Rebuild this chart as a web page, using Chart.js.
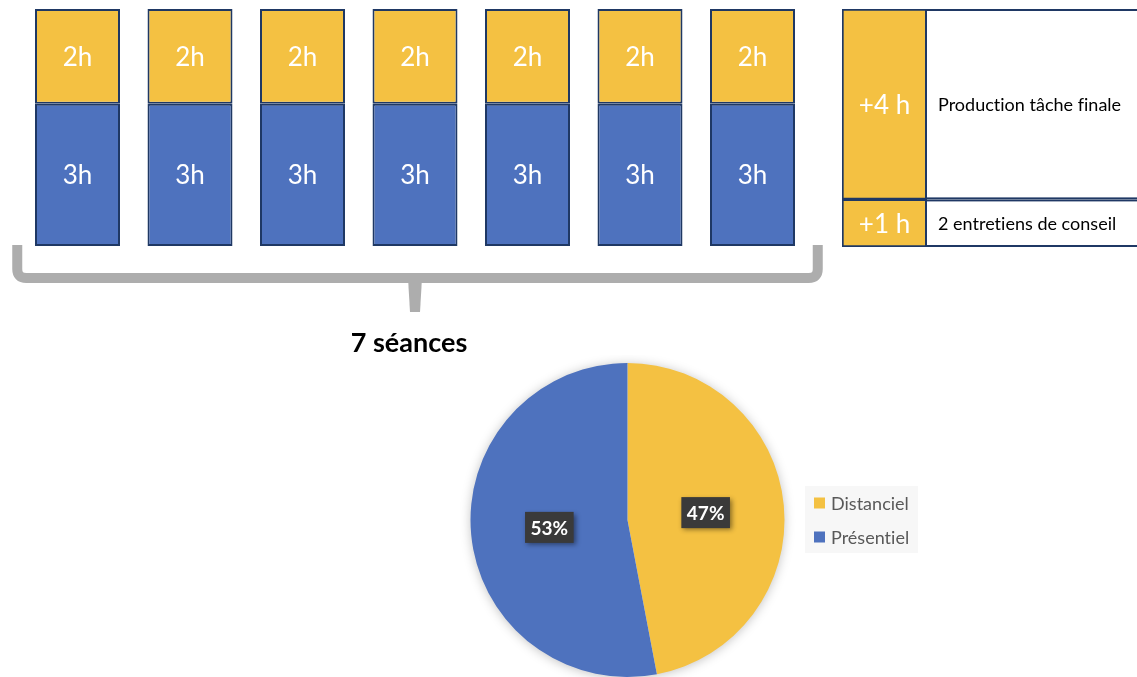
<!DOCTYPE html>
<html>
<head>
<meta charset="utf-8">
<script src="https://cdn.jsdelivr.net/npm/chart.js@4/dist/chart.umd.min.js"></script>
<style>
  html, body { margin: 0; padding: 0; background: #fff; width: 1137px; height: 677px; overflow: hidden; }
  .wrap { position: absolute; }
</style>
</head>
<body>
<div class="wrap" style="left:0;top:0;width:830px;height:360px;"><canvas id="bars"></canvas></div>
<div class="wrap" style="left:830px;top:0;width:307px;height:260px;"><canvas id="extra"></canvas></div>
<div class="wrap" style="left:460px;top:355px;width:480px;height:322px;"><canvas id="pie"></canvas></div>
<script>
// ---------- DATA ----------
const sessions = ['1', '2', '3', '4', '5', '6', '7'];
const presentielHours = [3, 3, 3, 3, 3, 3, 3];
const distancielHours = [2, 2, 2, 2, 2, 2, 2];
const braceLabel = '7 séances';

const extraCategory = ['Extra'];
const extraHours = [1, 4];                 // bottom row, top row
const extraLabels = ['+1 h', '+4 h'];
const extraTexts = ['2 entretiens de conseil', 'Production tâche finale'];

const pieLabels = ['Distanciel', 'Présentiel'];
const pieValues = [47, 53];

// ---------- STYLE ----------
const YELLOW = '#F4C142';
const BLUE = '#4E72BE';
const EDGE = '#1F3864';
const GRAY = '#ADADAD';
Chart.defaults.font.family = 'Lato, "Open Sans", sans-serif';
Chart.defaults.animation = false;

const hidden = { display: false, grid: { display: false }, border: { display: false } };

function noLig(ctx) { try { ctx.letterSpacing = '0.01px'; } catch (e) {} }

// Label inside bars
const barTextPlugin = {
  id: 'barText',
  afterDatasetsDraw(chart) {
    const ctx = chart.ctx;
    ctx.save();
    ctx.fillStyle = '#fff';
    ctx.font = '26px Lato';
    ctx.textAlign = 'center';
    ctx.textBaseline = 'middle';
    chart.data.datasets.forEach((ds, di) => {
      chart.getDatasetMeta(di).data.forEach((el, i) => {
        const top = Math.min(el.y, el.base), bot = Math.max(el.y, el.base);
        ctx.fillText(ds.data[i] + 'h', el.x, (top + bot) / 2 + 1);
      });
    });
    ctx.restore();
  }
};

// Brace + "7 séances"
const bracePlugin = {
  id: 'brace',
  afterDraw(chart) {
    const ctx = chart.ctx, a = chart.chartArea;
    const L = a.left - 4, R = a.right + 9, M = (a.left + a.right) / 2;
    const y0 = a.bottom - 1, yh = a.bottom + 32, yt = a.bottom + 66;
    const r = 9;
    ctx.save();
    ctx.strokeStyle = GRAY;
    ctx.lineWidth = 10;
    ctx.lineCap = 'butt';
    ctx.lineJoin = 'round';
    ctx.beginPath();
    ctx.moveTo(L, y0);
    ctx.lineTo(L, yh - r);
    ctx.quadraticCurveTo(L, yh, L + r, yh);
    ctx.lineTo(R - r, yh);
    ctx.quadraticCurveTo(R, yh, R, yh - r);
    ctx.lineTo(R, y0);
    ctx.stroke();
    ctx.fillStyle = GRAY;
    ctx.beginPath();
    ctx.moveTo(M - 7, yh);
    ctx.lineTo(M + 7, yh);
    ctx.lineTo(M + 5, yt);
    ctx.lineTo(M - 5, yt);
    ctx.closePath();
    ctx.fill();
    ctx.fillStyle = '#000';
    ctx.font = 'bold 27px Lato';
    ctx.textAlign = 'center';
    ctx.textBaseline = 'middle';
    ctx.fillText(braceLabel, M - 6, yt + 31);
    ctx.restore();
  }
};

new Chart(document.getElementById('bars'), {
  type: 'bar',
  data: {
    labels: sessions,
    datasets: [
      { label: 'Présentiel', data: presentielHours, backgroundColor: BLUE, borderColor: EDGE, borderWidth: 2, borderSkipped: false, barPercentage: 1, categoryPercentage: 0.7556 },
      { label: 'Distanciel', data: distancielHours, backgroundColor: YELLOW, borderColor: EDGE, borderWidth: 2, borderSkipped: false, barPercentage: 1, categoryPercentage: 0.7556 }
    ]
  },
  options: {
    responsive: true, maintainAspectRatio: false,
    layout: { padding: { left: 21.25, right: 21.25, top: 9, bottom: 114 } },
    scales: {
      x: Object.assign({ stacked: true }, hidden),
      y: Object.assign({ stacked: true, min: 0, max: 5 }, hidden)
    },
    plugins: { legend: { display: false }, tooltip: { enabled: false } }
  },
  plugins: [barTextPlugin, bracePlugin]
});

// Extra table column
const tablePlugin = {
  id: 'tableCells',
  afterDatasetsDraw(chart) {
    const ctx = chart.ctx;
    ctx.save();
    chart.data.datasets.forEach((ds, di) => {
      chart.getDatasetMeta(di).data.forEach((el) => {
        const top = Math.min(el.y, el.base), bot = Math.max(el.y, el.base);
        const right = el.x + el.width / 2;
        ctx.fillStyle = '#fff';
        ctx.fillRect(right, top, chart.width - right + 5, bot - top);
        ctx.strokeStyle = EDGE;
        ctx.lineWidth = 2;
        ctx.strokeRect(right - 1, top + 1, chart.width - right + 10, bot - top - 2);
        ctx.fillStyle = '#fff';
        ctx.font = '26px Lato';
        ctx.textAlign = 'center';
        ctx.textBaseline = 'middle';
        ctx.fillText(extraLabels[di], el.x, (top + bot) / 2 + 1);
        ctx.fillStyle = '#000';
        ctx.font = '18px Lato';
        noLig(ctx);
        ctx.textAlign = 'left';
        ctx.fillText(extraTexts[di], right + 11, (top + bot) / 2 + 1);
        try { ctx.letterSpacing = '0px'; } catch (e) {}
      });
    });
    ctx.restore();
  }
};

new Chart(document.getElementById('extra'), {
  type: 'bar',
  data: {
    labels: extraCategory,
    datasets: [
      { label: extraTexts[0], data: [extraHours[0]], backgroundColor: YELLOW, borderColor: EDGE, borderWidth: 2, borderSkipped: false, barPercentage: 1, categoryPercentage: 1 },
      { label: extraTexts[1], data: [extraHours[1]], backgroundColor: YELLOW, borderColor: EDGE, borderWidth: 2, borderSkipped: false, barPercentage: 1, categoryPercentage: 1 }
    ]
  },
  options: {
    responsive: true, maintainAspectRatio: false,
    layout: { padding: { left: 12, right: 210, top: 9, bottom: 13 } },
    scales: {
      x: Object.assign({ stacked: true }, hidden),
      y: Object.assign({ stacked: true, min: 0, max: 5 }, hidden)
    },
    plugins: { legend: { display: false }, tooltip: { enabled: false } }
  },
  plugins: [tablePlugin]
});

// Pie
const pieShadow = {
  id: 'pieShadow',
  beforeDatasetsDraw(chart) {
    const arc = chart.getDatasetMeta(0).data[0];
    if (!arc) return;
    const ctx = chart.ctx;
    ctx.save();
    ctx.shadowColor = 'rgba(0,0,0,0.28)';
    ctx.shadowBlur = 12;
    ctx.shadowOffsetY = 1;
    ctx.fillStyle = '#fff';
    ctx.beginPath();
    ctx.arc(arc.x, arc.y, arc.outerRadius - 1, 0, Math.PI * 2);
    ctx.fill();
    ctx.restore();
  }
};
const pieLabelsPlugin = {
  id: 'pieBoxes',
  afterDatasetsDraw(chart) {
    const ctx = chart.ctx;
    const vals = chart.data.datasets[0].data;
    const total = vals.reduce((s, v) => s + v, 0);
    ctx.save();
    ctx.font = 'bold 19px Lato';
    ctx.textAlign = 'center';
    ctx.textBaseline = 'middle';
    chart.getDatasetMeta(0).data.forEach((arc, i) => {
      const p = arc.tooltipPosition();
      const txt = Math.round(vals[i] / total * 100) + '%';
      const w = ctx.measureText(txt).width + 11, h = 31;
      ctx.save();
      ctx.shadowColor = 'rgba(0,0,0,0.45)';
      ctx.shadowBlur = 5;
      ctx.shadowOffsetX = 2;
      ctx.shadowOffsetY = 2;
      ctx.fillStyle = '#3A3A3A';
      ctx.fillRect(p.x - w / 2, p.y - h / 2, w, h);
      ctx.restore();
      ctx.fillStyle = '#fff';
      ctx.fillText(txt, p.x, p.y + 1);
    });
    ctx.restore();
  }
};
const pieLegend = {
  id: 'pieLegend',
  afterDraw(chart) {
    const ctx = chart.ctx;
    const ds = chart.data.datasets[0];
    ctx.save();
    ctx.fillStyle = '#F7F7F7';
    ctx.fillRect(345, 131, 113, 67);
    ctx.font = '18px Lato';
    noLig(ctx);
    ctx.textAlign = 'left';
    ctx.textBaseline = 'middle';
    chart.data.labels.forEach((lab, i) => {
      const cy = 148 + i * 34;
      ctx.fillStyle = ds.backgroundColor[i];
      ctx.fillRect(354, cy - 5.5, 11, 11);
      ctx.fillStyle = '#595959';
      ctx.fillText(lab, 371, cy + 1);
    });
    ctx.restore();
  }
};

new Chart(document.getElementById('pie'), {
  type: 'pie',
  data: {
    labels: pieLabels,
    datasets: [{ data: pieValues, backgroundColor: [YELLOW, BLUE], borderWidth: 0 }]
  },
  options: {
    responsive: true, maintainAspectRatio: false,
    layout: { padding: { left: 10, right: 155, top: 8, bottom: 0 } },
    plugins: { legend: { display: false }, tooltip: { enabled: false } }
  },
  plugins: [pieShadow, pieLabelsPlugin, pieLegend]
});
</script>
</body>
</html>
